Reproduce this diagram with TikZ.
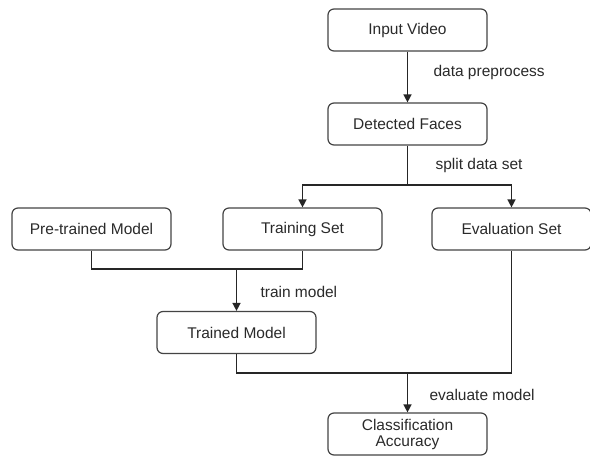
\documentclass[tikz,border=0pt]{standalone}
\usepackage{fontspec}
\setmainfont{Liberation Sans}
\usetikzlibrary{arrows.meta}
\definecolor{boxgray}{HTML}{444444}
\definecolor{textgray}{HTML}{2A2A2A}
\begin{document}
\begin{tikzpicture}[x=1pt, y=-1pt,
         arrow/.style={-{Triangle[length=8pt,width=8pt]}, line width=1.5pt, black!85},
         line/.style={line width=1.5pt, black!85},
         box/.style={draw=boxgray, line width=1.2pt, rounded corners=6pt, minimum width=159pt,
                     minimum height=42pt, inner sep=0pt, align=center, text=textgray},
         stage name/.style={anchor=west, text=textgray},
         font=\fontsize{15.5}{16}\selectfont
      ]
   \fill[white] (0,0) rectangle (590,457);
   \useasboundingbox (0,0) rectangle (590,457);

   \node[box] (input) at (407.5, 30) {Input Video};
   \node[box] (faces) at (407.5, 124) {Detected Faces};
   \node[box] (pre) at (91.5, 229) {Pre-trained Model};
   \node[box] (train) at (302.5, 229) {Training Set};
   \node[box] (eval) at (511.5, 229) {Evaluation Set};
   \node[box] (trained) at (236.5, 332.5) {Trained Model};
   \node[box] (result) at (407.5, 434) {Classification\\Accuracy};

   \node[stage name] (prepL) at (430, 72) {data preprocess};
   \node[stage name] (splitL) at (432, 165) {split data set};
   \node[stage name] (trainL) at (257, 292) {train model};
   \node[stage name] (evalL) at (426, 395) {evaluate model};

   \coordinate (split) at (407.5, 185);
   \coordinate (merge) at (236.5, 269);
   \coordinate (join) at (407.5, 373);

   \draw[arrow] (input) -- (faces);
   \draw[line] (faces) -- (split);
   \begin{scope}[arrow]
      \draw (split) -| (train);
      \draw (split) -| (eval);
      \draw (merge) -- (trained);
      \draw (join) -- (result);
   \end{scope}
   \draw[line] (pre.south) |- (merge) -| (train.south);
   \draw[line] (trained.south) |- (join) -| (eval.south);
\end{tikzpicture}
\end{document}
